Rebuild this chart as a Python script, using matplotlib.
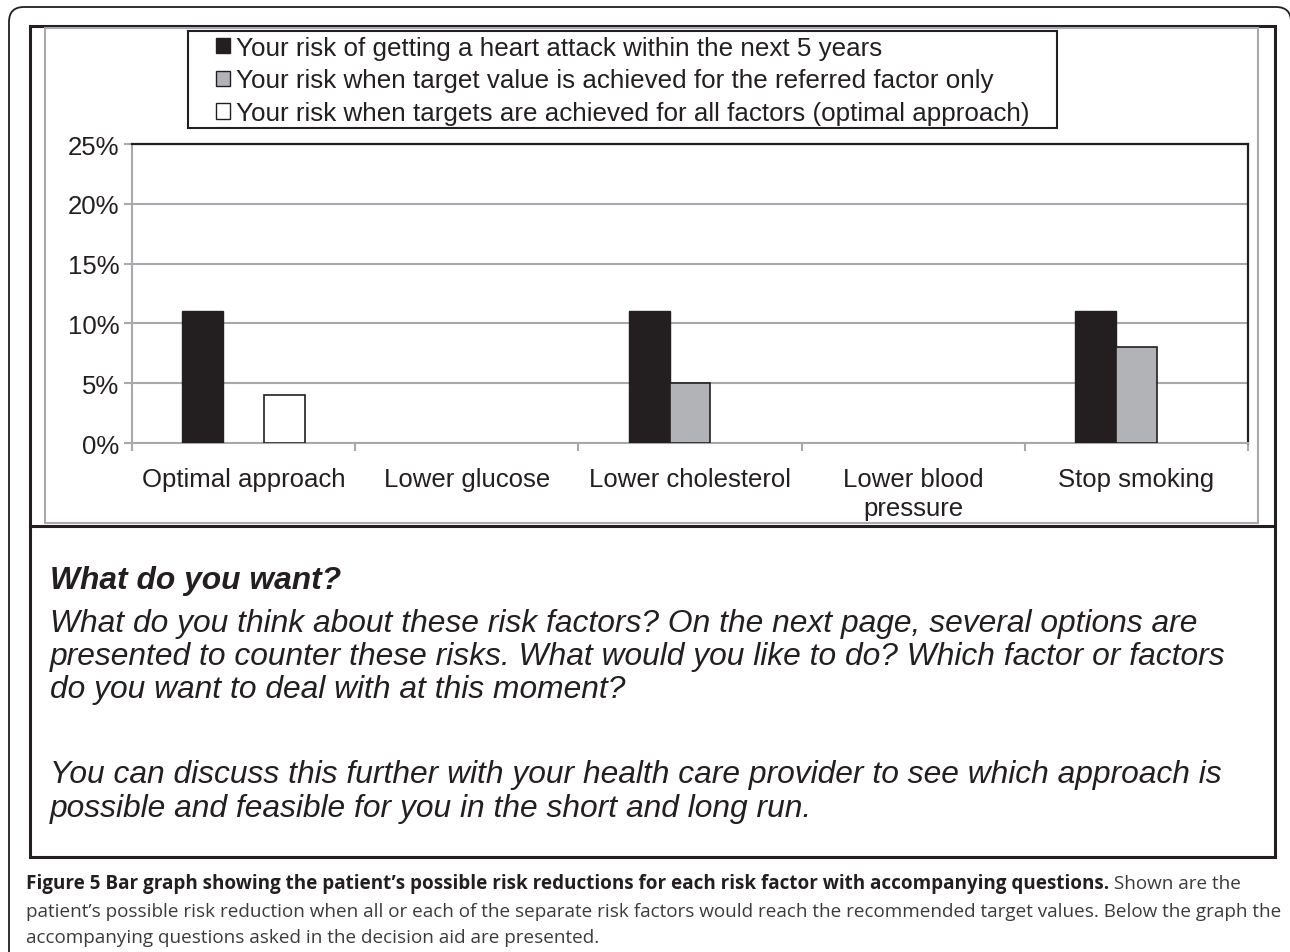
import matplotlib
matplotlib.use('Agg')
import matplotlib.pyplot as plt
import numpy as np
from matplotlib.patches import Rectangle, FancyBboxPatch, Patch
from matplotlib.lines import Line2D
from matplotlib.transforms import Affine2D

# ---------------- data ----------------
categories = ['Optimal approach', 'Lower glucose', 'Lower cholesterol',
              'Lower blood\npressure', 'Stop smoking']
risk_now = [11, np.nan, 11, np.nan, 11]
risk_single = [np.nan, np.nan, 5, np.nan, 8]
risk_all = [4, np.nan, np.nan, np.nan, np.nan]
series_labels = ['Your risk of getting a heart attack within the next 5 years',
                 'Your risk when target value is achieved for the referred factor only',
                 'Your risk when targets are achieved for all factors (optimal approach)']
yticks = [0, 5, 10, 15, 20, 25]
ytick_labels = ['0%', '5%', '10%', '15%', '20%', '25%']

question_title = 'What do you want?'
question_lines = ['What do you think about these risk factors? On the next page, several options are',
                  'presented to counter these risks. What would you like to do? Which factor or factors',
                  'do you want to deal with at this moment?']
advice_lines = ['You can discuss this further with your health care provider to see which approach is',
                'possible and feasible for you in the short and long run.']
caption_bold = ('Figure 5 Bar graph showing the patient\u2019s possible risk reductions for each '
                'risk factor with accompanying questions.')
caption_rest = [' Shown are the',
                'patient\u2019s possible risk reduction when all or each of the separate risk factors '
                'would reach the recommended target values. Below the graph the',
                'accompanying questions asked in the decision aid are presented.']

# ---------------- styling ----------------
W, H = 1290, 953
DARK = '#231f20'
GRID = '#a7a9ac'
MID = '#b1b3b6'
plt.rcParams['font.family'] = ['Liberation Sans', 'DejaVu Sans']

fig = plt.figure(figsize=(W / 100, H / 100), dpi=100)
T = Affine2D().scale(1, -1).translate(0, H)   # image pixel coords (y down)

# outer rounded frame
outer = FancyBboxPatch((9, 8), 1282, 1200,
                       boxstyle='round,pad=0,rounding_size=15',
                       transform=T, fill=False, edgecolor=DARK, lw=1.3, clip_on=False)
fig.patches.append(outer)
# inner box
fig.patches.append(Rectangle((30, 27), 1245, 831, transform=T, fill=False,
                             edgecolor=DARK, lw=2.2))
# gray chart panel
fig.patches.append(Rectangle((45, 29), 1213, 495, transform=T, fill=False,
                             edgecolor=GRID, lw=1.5))
# separator
fig.lines.append(Line2D([30, 1275], [527, 527], transform=T, color=DARK, lw=2.2))

# ---------------- axes ----------------
x0, x1, y0, y1 = 132, 1248, 145, 444
ax = fig.add_axes([x0 / W, 1 - y1 / H, (x1 - x0) / W, (y1 - y0) / H])
x = np.arange(len(categories))
w = 0.183
ax.bar(x - w, risk_now, w, color=DARK, edgecolor=DARK, lw=1.0, zorder=3)
ax.bar(x, risk_single, w, color=MID, edgecolor=DARK, lw=1.2, zorder=3)
ax.bar(x + w, risk_all, w, color='white', edgecolor=DARK, lw=1.2, zorder=3)

ax.set_xlim(-0.5, len(categories) - 0.5)
ax.set_ylim(0, 25)
ax.set_yticks(yticks)
ax.set_yticklabels(ytick_labels)
ax.yaxis.grid(True, color=GRID, lw=1.5)
ax.set_axisbelow(True)
ax.set_xticks(x)
ax.set_xticklabels(categories, linespacing=1.3)
ax.set_xticks(np.arange(-0.5, len(categories)), minor=True)
ax.tick_params(axis='x', which='major', length=0, pad=17, labelsize=18.5, labelcolor=DARK)
ax.tick_params(axis='x', which='minor', length=6, width=1.5, color=GRID, direction='out')
ax.tick_params(axis='y', length=6, width=1.5, color=GRID, pad=3, labelsize=18.5,
               labelcolor=DARK)
for s in ['left', 'bottom']:
    ax.spines[s].set_color(GRID)
    ax.spines[s].set_linewidth(1.5)
for s in ['top', 'right']:
    ax.spines[s].set_color(DARK)
    ax.spines[s].set_linewidth(1.6)

# legend (frame drawn separately for wider side padding)
fig.patches.append(Rectangle((188, 32), 869, 97, transform=T, fill=False,
                             edgecolor=DARK, lw=1.5))
handles = [Patch(facecolor=DARK, edgecolor=DARK, lw=1),
           Patch(facecolor=MID, edgecolor=DARK, lw=1),
           Patch(facecolor='white', edgecolor=DARK, lw=1)]
leg = fig.legend(handles, series_labels, loc='upper left',
                 bbox_to_anchor=(212 / W, 1 - 33 / H), bbox_transform=fig.transFigure,
                 frameon=False, fontsize=18.7, handlelength=0.54, handleheight=0.54,
                 handletextpad=0.23, labelspacing=0.33, borderpad=0.15, borderaxespad=0)
for t in leg.get_texts():
    t.set_color(DARK)

# ---------------- question text ----------------
FS = 22.9
fig.text(50, 581, question_title, transform=T, fontsize=FS, fontweight='bold',
         fontstyle='italic', color=DARK, va='center', ha='left')
for yy, line in zip([624, 657, 690], question_lines):
    fig.text(50, yy, line, transform=T, fontsize=FS, fontstyle='italic',
             color=DARK, va='center', ha='left')
for yy, line in zip([775, 809], advice_lines):
    fig.text(50, yy, line, transform=T, fontsize=FS, fontstyle='italic',
             color=DARK, va='center', ha='left')

# ---------------- caption ----------------
cap_font = ['Open Sans', 'DejaVu Sans']
CFS = 13.6
tb = fig.text(26, 889, caption_bold, transform=T, fontsize=CFS, fontweight='bold',
              family=cap_font, color=DARK, va='baseline', ha='left')
fig.canvas.draw()
bb = tb.get_window_extent(renderer=fig.canvas.get_renderer())
fig.text(bb.x1, 889, caption_rest[0], transform=T, fontsize=CFS, family=cap_font,
         color='#3b3b3b', va='baseline', ha='left')
fig.text(26, 917, caption_rest[1], transform=T, fontsize=CFS, family=cap_font,
         color='#3b3b3b', va='baseline', ha='left')
fig.text(26, 943, caption_rest[2], transform=T, fontsize=CFS, family=cap_font,
         color='#3b3b3b', va='baseline', ha='left')

fig.savefig('out.png', dpi=100, facecolor='white')
